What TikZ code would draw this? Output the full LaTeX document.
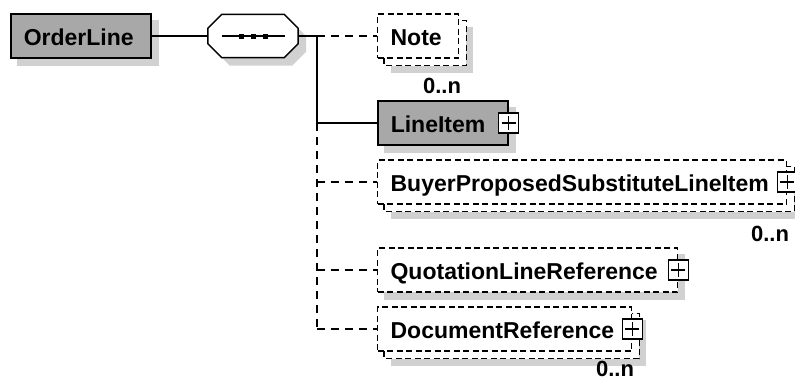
\documentclass[tikz,border=0pt]{standalone}
\usepackage{fontspec}
\setmainfont{Liberation Sans}
\usetikzlibrary{backgrounds}
\colorlet{elemgray}{black!34}
\colorlet{shadowgray}{black!18}
\tikzset{
  elem/.style={draw, line width=1.5pt, anchor=west, inner xsep=13pt, inner ysep=0pt,
    minimum height=44pt, text height=18pt, text depth=0pt, align=left,
    font=\fontsize{23}{25}\selectfont\bfseries},
  borderdash/.style={dash pattern=on 6pt off 3.5pt},
  dashline/.style={line width=1.3pt, dash pattern=on 8pt off 6pt},
  solidline/.style={line width=1.5pt},
  reqbox/.style={elem, fill=elemgray},
  optbox/.style={elem, fill=white, line width=1.2pt, borderdash},
  backbox/.style={draw, fill=white, line width=1.2pt, borderdash},
  shadowbox/.style={fill=shadowgray, draw=none},
  seqbox/.style={inner sep=0pt, minimum width=90pt, minimum height=43pt},
  plusbox/.style={draw, fill=white, line width=1.2pt, inner sep=0pt, minimum size=20pt,
    path picture={\draw[line width=1.2pt]
      ([yshift=-3pt]path picture bounding box.north) -- ([yshift=3pt]path picture bounding box.south)
      ([xshift=3pt]path picture bounding box.west) -- ([xshift=-3pt]path picture bounding box.east);}},
  occurs/.style={anchor=north east, inner sep=0pt, font=\fontsize{22}{24}\selectfont\bfseries}
}
% outline of the sequence compositor
\newcommand{\seqoutline}{([xshift=14pt]seq.north west) -- ([xshift=-14pt]seq.north east)
  -- ([yshift=-14pt]seq.north east) -- ([yshift=14pt]seq.south east)
  -- ([xshift=-14pt]seq.south east) -- ([xshift=14pt]seq.south west)
  -- ([yshift=14pt]seq.south west) -- ([yshift=-14pt]seq.north west) -- cycle}
\begin{document}
\begin{tikzpicture}[x=1pt,y=-1pt]
  \useasboundingbox (0,0) rectangle (795,381);

  \node[reqbox, text width=114pt] (orderline) at (10,36) {OrderLine};
  \node[seqbox] (seq) at (253,36) {};
  \coordinate (hub) at (317,36);

  \node[optbox, text width=55pt] (note) at (377,36) {Note};
  \node[reqbox, text width=104pt] (item) at (377,123) {LineItem};
  \node[optbox, text width=383pt] (buyer) at (377,182) {BuyerProposedSubstituteLineItem};
  \node[optbox, text width=274pt] (quote) at (377,270) {QuotationLineReference};
  \node[optbox, text width=228pt] (docref) at (377,329) {DocumentReference};

  \foreach \n in {item,buyer,quote,docref}
    \node[plusbox] (\n-plus) at (\n.east) {};

  \node[occurs] (note-occ) at ([xshift=2pt,yshift=-19pt]note.south east) {0..n};
  \node[occurs] (buyer-occ) at ([xshift=2pt,yshift=-21pt]buyer.south east) {0..n};
  \node[occurs] (docref-occ) at ([xshift=2pt,yshift=-9pt]docref.south east) {0..n};

  % sequence symbol
  \path[draw,fill=white,solidline] \seqoutline;
  \path[draw,solidline] ([xshift=14pt]seq.west) -- ([xshift=-13pt]seq.east);
  \foreach \dx in {-12,0,12}
    \fill ([xshift=\dx pt]seq.center) +(-2.5,-2.5) rectangle +(2.5,2.5);

  \path[draw,solidline] (orderline) -- (seq);
  \path[draw,solidline] (seq) -- (hub);
  \path[draw,solidline] (hub) |- (item);
  \path[draw,dashline] (hub) -- (note);
  \path[draw,dashline] (hub |- item.west) -- (hub |- docref.west);
  \path[draw,dashline] (hub |- buyer.west) -- (buyer);
  \path[draw,dashline] (hub |- quote.west) -- (quote);
  \path[draw,dashline] (hub |- docref.west) -- (docref);

  % shadows and repeated boxes
  \begin{scope}[on background layer]
    \path[shadowbox, transform canvas={xshift=8pt,yshift=-8pt}] \seqoutline;
    \foreach \n in {orderline,item,quote}
      \path[shadowbox] ([shift={(7,7)}]\n.north west) rectangle ([shift={(7,7)}]\n.south east);
    \foreach \n in {note,buyer,docref} {
      \path[shadowbox] ([shift={(14,14)}]\n.north west) rectangle ([shift={(14,14)}]\n.south east);
      \path[backbox] ([shift={(7,7)}]\n.north west) rectangle ([shift={(7,7)}]\n.south east);
    }
  \end{scope}
\end{tikzpicture}
\end{document}
